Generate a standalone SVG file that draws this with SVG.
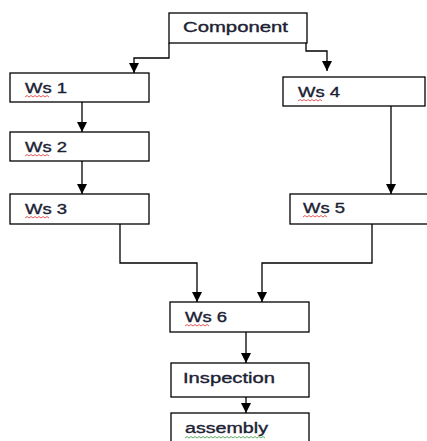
<svg xmlns="http://www.w3.org/2000/svg" width="427" height="441" viewBox="0 0 427 441">
<style>
.box{fill:#fff;stroke:#000;stroke-width:1.3}
.lbl{font-family:"Liberation Sans",Arial,sans-serif;font-size:14px;fill:#1c2233;stroke:#1c2233;stroke-width:0.35}
.con{fill:none;stroke:#000;stroke-width:1.3}
.sq{fill:none;stroke:#e03030;stroke-width:0.8}
.sqg{fill:none;stroke:#3a9a3a;stroke-width:0.8}
</style>
<defs>
<marker id="ah" viewBox="0 0 10 10" refX="10" refY="5" markerWidth="10" markerHeight="10" markerUnits="userSpaceOnUse" orient="auto">
<path d="M0,0 L10,5 L0,10 Z" fill="#000"/>
</marker>
</defs>
<rect width="427" height="441" fill="#fff"/>
<g id="connectors">
<path class="con" d="M169,43 V58 H134 V73" marker-end="url(#ah)"/>
<path class="con" d="M306,43 V51 H327 V71" marker-end="url(#ah)"/>
<path class="con" d="M82,102 V132" marker-end="url(#ah)"/>
<path class="con" d="M82,161 V194" marker-end="url(#ah)"/>
<path class="con" d="M391,106 V194" marker-end="url(#ah)"/>
<path class="con" d="M120,224 V263 H197 V302" marker-end="url(#ah)"/>
<path class="con" d="M372,224 V263 H262 V302" marker-end="url(#ah)"/>
<path class="con" d="M246,332 V363" marker-end="url(#ah)"/>
<path class="con" d="M246,397 V413" marker-end="url(#ah)"/>
</g>
<g id="component">
<rect class="box" x="169" y="13" width="138" height="30"/>
<text class="lbl" x="183" y="32" textLength="105" lengthAdjust="spacingAndGlyphs">Component</text>
</g>
<g id="ws1">
<rect class="box" x="10" y="73" width="139" height="29"/>
<text class="lbl" x="25" y="93" textLength="42" lengthAdjust="spacingAndGlyphs">Ws 1</text>
<path class="sq" d="M25,97 l2,-1.5 l2,1.5 l2,-1.5 l2,1.5 l2,-1.5 l2,1.5 l2,-1.5 l2,1.5 l2,-1.5 l2,1.5 l2,-1.5 l2,1.5"/>
</g>
<g id="ws2">
<rect class="box" x="10" y="132" width="139" height="29"/>
<text class="lbl" x="25" y="152" textLength="42" lengthAdjust="spacingAndGlyphs">Ws 2</text>
<path class="sq" d="M25,156 l2,-1.5 l2,1.5 l2,-1.5 l2,1.5 l2,-1.5 l2,1.5 l2,-1.5 l2,1.5 l2,-1.5 l2,1.5 l2,-1.5 l2,1.5"/>
</g>
<g id="ws3">
<rect class="box" x="10" y="194" width="139" height="30"/>
<text class="lbl" x="25" y="214" textLength="42" lengthAdjust="spacingAndGlyphs">Ws 3</text>
<path class="sq" d="M25,218 l2,-1.5 l2,1.5 l2,-1.5 l2,1.5 l2,-1.5 l2,1.5 l2,-1.5 l2,1.5 l2,-1.5 l2,1.5 l2,-1.5 l2,1.5"/>
</g>
<g id="ws4">
<rect class="box" x="283" y="77" width="142" height="29"/>
<text class="lbl" x="298" y="97" textLength="42" lengthAdjust="spacingAndGlyphs">Ws 4</text>
<path class="sq" d="M298,101 l2,-1.5 l2,1.5 l2,-1.5 l2,1.5 l2,-1.5 l2,1.5 l2,-1.5 l2,1.5 l2,-1.5 l2,1.5 l2,-1.5 l2,1.5"/>
</g>
<g id="ws5">
<rect class="box" x="290" y="194" width="140" height="30"/>
<text class="lbl" x="303" y="213" textLength="42" lengthAdjust="spacingAndGlyphs">Ws 5</text>
<path class="sq" d="M303,217 l2,-1.5 l2,1.5 l2,-1.5 l2,1.5 l2,-1.5 l2,1.5 l2,-1.5 l2,1.5 l2,-1.5 l2,1.5 l2,-1.5 l2,1.5"/>
</g>
<g id="ws6">
<rect class="box" x="170" y="302" width="139" height="30"/>
<text class="lbl" x="185" y="322" textLength="42" lengthAdjust="spacingAndGlyphs">Ws 6</text>
<path class="sq" d="M185,326 l2,-1.5 l2,1.5 l2,-1.5 l2,1.5 l2,-1.5 l2,1.5 l2,-1.5 l2,1.5 l2,-1.5 l2,1.5 l2,-1.5 l2,1.5"/>
</g>
<g id="inspection">
<rect class="box" x="171" y="363" width="138" height="34"/>
<text class="lbl" x="183" y="383" textLength="92" lengthAdjust="spacingAndGlyphs">Inspection</text>
</g>
<g id="assembly">
<rect class="box" x="171" y="413" width="138" height="34"/>
<text class="lbl" x="185" y="433" textLength="83" lengthAdjust="spacingAndGlyphs">assembly</text>
<path class="sqg" d="M185,438 l2,-1.5 l2,1.5 l2,-1.5 l2,1.5 l2,-1.5 l2,1.5 l2,-1.5 l2,1.5 l2,-1.5 l2,1.5 l2,-1.5 l2,1.5 l2,-1.5 l2,1.5 l2,-1.5 l2,1.5 l2,-1.5 l2,1.5 l2,-1.5 l2,1.5 l2,-1.5 l2,1.5 l2,-1.5 l2,1.5 l2,-1.5 l2,1.5 l2,-1.5 l2,1.5 l2,-1.5 l2,1.5 l2,-1.5 l2,1.5 l2,-1.5 l2,1.5 l2,-1.5 l2,1.5 l2,-1.5 l2,1.5 l2,-1.5 l2,1.5"/>
</g>
</svg>
